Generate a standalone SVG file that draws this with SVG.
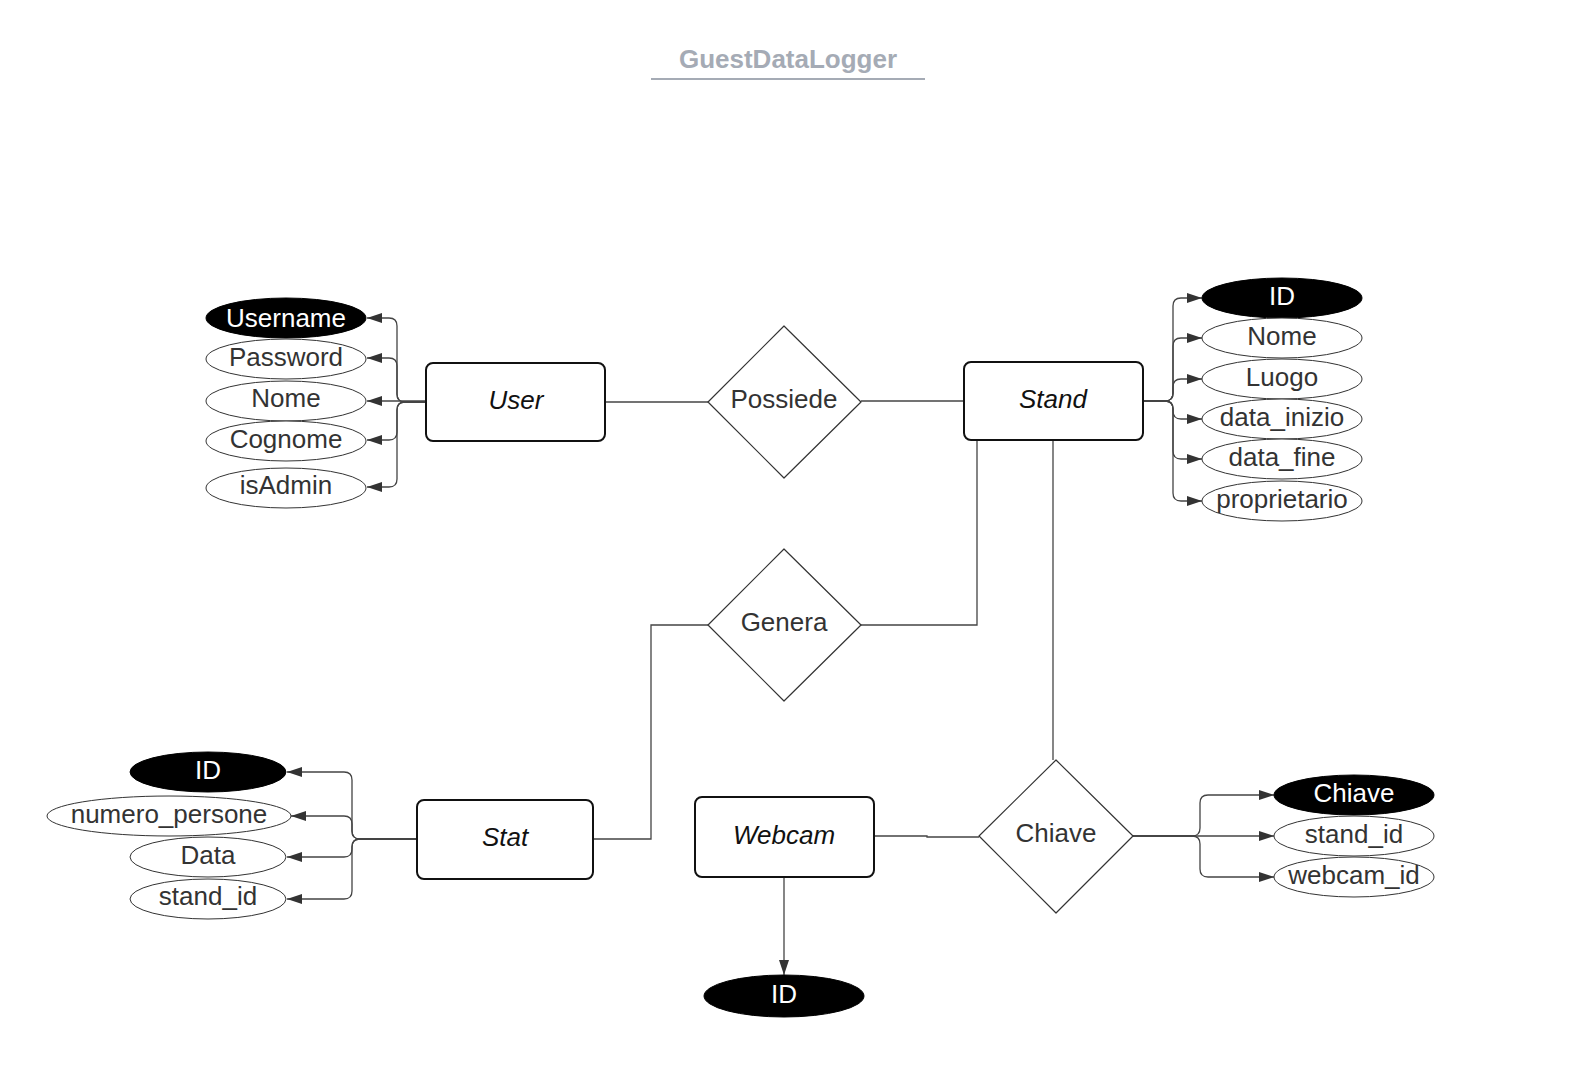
<svg xmlns="http://www.w3.org/2000/svg" width="1574" height="1080" viewBox="0 0 1574 1080">
<defs>
<marker id="arr" markerUnits="userSpaceOnUse" markerWidth="15" markerHeight="10" refX="15" refY="5" orient="auto">
<path d="M0,0 L15,5 L0,10 z" fill="#333"/>
</marker>
<style>
text{font-family:"Liberation Sans",Arial,sans-serif;font-size:26px;text-anchor:middle;fill:#333}
.ent rect{fill:#fff;stroke:#111;stroke-width:2}
.ent text{font-style:italic;fill:#111}
.rel polygon{fill:#fff;stroke:#333;stroke-width:1.2;stroke-linejoin:round}
.att ellipse{fill:#fff;stroke:#333;stroke-width:1}
.key ellipse{fill:#000;stroke:#000;stroke-width:1}
.key text{fill:#fff}
#connectors path{fill:none;stroke:#444;stroke-width:1.3}
#connectors path.a{marker-end:url(#arr)}
</style>
</defs>
<rect width="1574" height="1080" fill="#fff"/>
<g id="title">
<text x="788" y="68" style="font-weight:bold;font-size:26px;fill:#a5abb5">GuestDataLogger</text>
<line x1="651" y1="79" x2="925" y2="79" stroke="#a5abb5" stroke-width="2"/>
</g>
<g id="connectors">
<path d="M605 402 H708"/>
<path d="M861 401 H964"/>
<path d="M977 440 V625 H861"/>
<path d="M708 625 H651 V839 H593"/>
<path d="M1053 440 V760"/>
<path d="M874 836 H927 V837 H979"/>
<path class="a" d="M784 877 V975"/>
<path class="a" d="M426 402 H405 Q397 402 397 394 V326 Q397 318 389 318 H367"/>
<path class="a" d="M426 402 H405 Q397 402 397 394 V366 Q397 358 389 358 H367"/>
<path class="a" d="M426 401 H367"/>
<path class="a" d="M426 402 H405 Q397 402 397 410 V432 Q397 440 389 440 H367"/>
<path class="a" d="M426 402 H405 Q397 402 397 410 V479 Q397 487 389 487 H367"/>
<path class="a" d="M1143 401 H1165 Q1173 401 1173 393 V306 Q1173 298 1181 298 H1202"/>
<path class="a" d="M1143 401 H1165 Q1173 401 1173 393 V346 Q1173 338 1181 338 H1202"/>
<path class="a" d="M1143 401 H1165 Q1173 401 1173 393 V387 Q1173 379 1181 379 H1202"/>
<path class="a" d="M1143 401 H1165 Q1173 401 1173 409 V411 Q1173 419 1181 419 H1202"/>
<path class="a" d="M1143 401 H1165 Q1173 401 1173 409 V451 Q1173 459 1181 459 H1202"/>
<path class="a" d="M1143 401 H1165 Q1173 401 1173 409 V493 Q1173 501 1181 501 H1202"/>
<path class="a" d="M417 839 H360 Q352 839 352 831 V780 Q352 772 344 772 H287"/>
<path class="a" d="M417 839 H360 Q352 839 352 831 V824 Q352 816 344 816 H291"/>
<path class="a" d="M417 839 H360 Q352 839 352 847 V849 Q352 857 344 857 H287"/>
<path class="a" d="M417 839 H360 Q352 839 352 847 V891 Q352 899 344 899 H287"/>
<path class="a" d="M1133 836 H1192 Q1200 836 1200 828 V803 Q1200 795 1208 795 H1274"/>
<path class="a" d="M1133 836 H1274"/>
<path class="a" d="M1133 836 H1192 Q1200 836 1200 844 V869 Q1200 877 1208 877 H1274"/>
</g>
<g id="user" class="ent"><rect x="426" y="363" width="179" height="78" rx="7"/><text x="516" y="409">User</text></g>
<g id="stand" class="ent"><rect x="964" y="362" width="179" height="78" rx="7"/><text x="1053" y="408">Stand</text></g>
<g id="stat" class="ent"><rect x="417" y="800" width="176" height="79" rx="7"/><text x="505" y="846">Stat</text></g>
<g id="webcam" class="ent"><rect x="695" y="797" width="179" height="80" rx="7"/><text x="784" y="844">Webcam</text></g>
<g id="possiede" class="rel"><polygon points="784,326 861,402 784,478 708,402"/><text x="784" y="408">Possiede</text></g>
<g id="genera" class="rel"><polygon points="784,549 861,625 784,701 708,625"/><text x="784" y="631">Genera</text></g>
<g id="chiave_rel" class="rel"><polygon points="1056,760 1133,836 1056,913 979,836"/><text x="1056" y="842">Chiave</text></g>
<g id="user_username" class="key"><ellipse cx="286" cy="318" rx="80" ry="20"/><text x="286" y="327">Username</text></g>
<g id="user_password" class="att"><ellipse cx="286" cy="359" rx="80" ry="20"/><text x="286" y="366">Password</text></g>
<g id="user_nome" class="att"><ellipse cx="286" cy="401" rx="80" ry="20"/><text x="286" y="407">Nome</text></g>
<g id="user_cognome" class="att"><ellipse cx="286" cy="441" rx="80" ry="20"/><text x="286" y="448">Cognome</text></g>
<g id="user_isadmin" class="att"><ellipse cx="286" cy="488" rx="80" ry="20"/><text x="286" y="494">isAdmin</text></g>
<g id="stand_id" class="key"><ellipse cx="1282" cy="298" rx="80" ry="20"/><text x="1282" y="305">ID</text></g>
<g id="stand_nome" class="att"><ellipse cx="1282" cy="338" rx="80" ry="20"/><text x="1282" y="345">Nome</text></g>
<g id="stand_luogo" class="att"><ellipse cx="1282" cy="379" rx="80" ry="20"/><text x="1282" y="386">Luogo</text></g>
<g id="stand_data_inizio" class="att"><ellipse cx="1282" cy="419" rx="80" ry="20"/><text x="1282" y="426">data_inizio</text></g>
<g id="stand_data_fine" class="att"><ellipse cx="1282" cy="459" rx="80" ry="20"/><text x="1282" y="466">data_fine</text></g>
<g id="stand_proprietario" class="att"><ellipse cx="1282" cy="501" rx="80" ry="20"/><text x="1282" y="508">proprietario</text></g>
<g id="stat_id" class="key"><ellipse cx="208" cy="772" rx="78" ry="20"/><text x="208" y="779">ID</text></g>
<g id="stat_numero_persone" class="att"><ellipse cx="169" cy="816" rx="122" ry="20"/><text x="169" y="823">numero_persone</text></g>
<g id="stat_data" class="att"><ellipse cx="208" cy="857" rx="78" ry="20"/><text x="208" y="864">Data</text></g>
<g id="stat_stand_id" class="att"><ellipse cx="208" cy="899" rx="78" ry="20"/><text x="208" y="905">stand_id</text></g>
<g id="webcam_id" class="key"><ellipse cx="784" cy="996" rx="80" ry="21"/><text x="784" y="1003">ID</text></g>
<g id="chiave_chiave" class="key"><ellipse cx="1354" cy="795" rx="80" ry="20"/><text x="1354" y="802">Chiave</text></g>
<g id="chiave_stand_id" class="att"><ellipse cx="1354" cy="836" rx="80" ry="20"/><text x="1354" y="843">stand_id</text></g>
<g id="chiave_webcam_id" class="att"><ellipse cx="1354" cy="877" rx="80" ry="20"/><text x="1354" y="884">webcam_id</text></g>
</svg>
